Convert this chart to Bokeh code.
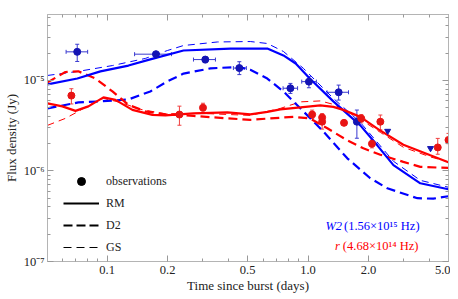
from bokeh.plotting import figure
from bokeh.models import (FixedTicker, LogAxis, Whisker, TeeHead, ColumnDataSource,
                          Label, Legend, LegendItem, Range1d)
from bokeh.embed import file_html
from bokeh.resources import INLINE

# ---------------- data (days, Jy) ----------------
# W2 observations
w2_t = [0.071, 0.175, 0.308, 0.455, 0.817, 1.01, 1.42, 1.75]
w2_f = [2.07e-5, 1.95e-5, 1.70e-5, 1.37e-5, 8.2e-6, 9.7e-6, 7.4e-6, 3.5e-6]
w2_f_lo = [1.62e-5, 1.88e-5, 1.57e-5, 1.16e-5, 7.19e-6, 8.3e-6, 6.07e-6, 2.30e-6]
w2_f_hi = [2.51e-5, 2.02e-5, 1.82e-5, 1.61e-5, 9.27e-6, 1.1e-5, 8.88e-6, 4.71e-6]
w2_t_lo = [0.0625, 0.137, 0.269, 0.425, 0.751, 0.93, 1.243, 1.72]
w2_t_hi = [0.080, 0.209, 0.346, 0.493, 0.887, 1.10, 1.59, 1.78]
# W2 upper limits
w2_ul_t = [2.49, 4.07]
w2_ul_f = [2.76e-6, 1.78e-6]

# r observations
r_t = [0.0664, 0.229, 0.30, 1.048, 1.175, 1.175, 1.51, 1.84, 2.08, 2.29, 4.42, 5.0]
r_f = [6.8e-6, 4.2e-6, 5.0e-6, 4.2e-6, 3.9e-6, 3.5e-6, 3.4e-6, 3.8e-6, 2.0e-6, 3.5e-6, 1.82e-6, 2.2e-6]
r_f_lo = [5.5e-6, 3.2e-6, 4.6e-6, 3.8e-6, 2.9e-6, 3.3e-6, 3.4e-6, 3.4e-6, 1.8e-6, 2.85e-6, 1.53e-6, 2.0e-6]
r_f_hi = [8.1e-6, 5.2e-6, 5.6e-6, 4.7e-6, 4.3e-6, 3.7e-6, 3.4e-6, 4.2e-6, 2.2e-6, 4.15e-6, 2.29e-6, 2.6e-6]

# W2 model curves
w2_rm_t = [0.0505, 0.0711, 0.0926, 0.1277, 0.164, 0.240, 0.411, 0.627, 0.754, 0.868, 1.02, 1.336, 1.82, 2.21, 2.66, 3.62, 4.99]
w2_rm_f = [9.03e-6, 1.05e-5, 1.26e-5, 1.46e-5, 1.71e-5, 2.14e-5, 2.25e-5, 2.25e-5, 1.89e-5, 1.54e-5, 1.05e-5, 5.87e-6, 3.19e-6, 1.92e-6, 1.16e-6, 7.31e-7, 6.28e-7]
w2_gs_t = [0.0505, 0.0719, 0.1063, 0.155, 0.1995, 0.240, 0.354, 0.516, 0.627, 0.754, 0.948, 1.336, 1.82, 2.66, 3.62, 4.99]
w2_gs_f = [1.135e-5, 1.26e-5, 1.46e-5, 1.75e-5, 2.14e-5, 2.43e-5, 2.66e-5, 2.69e-5, 2.56e-5, 2.09e-5, 1.36e-5, 6.34e-6, 3.44e-6, 1.28e-6, 7.88e-7, 6.61e-7]
w2_d2_t = [0.0505, 0.0719, 0.0926, 0.1277, 0.164, 0.1995, 0.240, 0.327, 0.450, 0.516, 0.627, 0.754, 0.948, 1.19, 1.568, 2.04, 2.48, 3.50, 4.20, 4.99]
w2_d2_f = [4.91e-6, 5.72e-6, 5.87e-6, 6.17e-6, 7.56e-6, 9.75e-6, 1.19e-5, 1.36e-5, 1.41e-5, 1.31e-5, 1.05e-5, 7.56e-6, 4.55e-6, 2.74e-6, 1.38e-6, 8.31e-7, 6.44e-7, 5.0e-7, 4.94e-7, 5.26e-7]

# r model curves
r_rm_t = [0.0505, 0.0599, 0.0696, 0.0807, 0.0959, 0.110, 0.1336, 0.168, 0.195, 0.269, 0.397, 0.516, 0.627, 0.728, 0.917, 1.151, 1.336, 1.498, 1.82, 2.24, 2.98, 4.06, 4.99]
r_rm_f = [5.58e-6, 5.17e-6, 4.61e-6, 5.17e-6, 6.50e-6, 6.10e-6, 4.73e-6, 4.17e-6, 4.11e-6, 4.33e-6, 4.44e-6, 4.22e-6, 4.50e-6, 4.79e-6, 5.04e-6, 5.30e-6, 5.10e-6, 4.73e-6, 3.96e-6, 2.88e-6, 1.95e-6, 1.49e-6, 1.25e-6]
r_d2_t = [0.0505, 0.0620, 0.0719, 0.0875, 0.1063, 0.1277, 0.155, 0.195, 0.269, 0.397, 0.516, 0.649, 0.845, 1.02, 1.247, 1.568, 1.884, 2.29, 2.98, 3.62, 4.99]
r_d2_f = [9.51e-6, 1.24e-5, 1.26e-5, 1.05e-5, 7.56e-6, 5.37e-6, 4.55e-6, 4.22e-6, 4.06e-6, 3.81e-6, 3.67e-6, 3.81e-6, 3.96e-6, 3.81e-6, 2.96e-6, 2.18e-6, 1.78e-6, 1.51e-6, 1.26e-6, 1.11e-6, 1.08e-6]
r_gs_t = [0.0505, 0.0620, 0.0719, 0.0826, 0.0959, 0.1165, 0.1465, 0.195, 0.291, 0.516, 0.728, 0.917, 1.151, 1.336, 1.533, 1.82, 2.29, 2.98, 4.06, 4.99]
r_gs_f = [3.19e-6, 3.81e-6, 4.55e-6, 5.44e-6, 6.34e-6, 5.72e-6, 4.79e-6, 4.28e-6, 4.33e-6, 4.11e-6, 4.91e-6, 5.80e-6, 5.94e-6, 5.44e-6, 4.67e-6, 3.72e-6, 2.67e-6, 1.83e-6, 1.43e-6, 1.26e-6]

# legend key sample (for drawing key glyphs only; lies outside the y range)
key_t = [1.0]
key_f = [1.0]

# axes
x_major = [0.1, 0.2, 0.5, 1, 2, 5]
x_major_labels = ["0.1", "0.2", "0.5", "1.0", "2.0", "5.0"]
x_minor = [0.06, 0.07, 0.08, 0.09, 0.3, 0.4, 0.6, 0.7, 0.8, 0.9, 3, 4]
y_major = [1e-7, 1e-6, 1e-5]
y_major_labels = ["10\u207b\u2077", "10\u207b\u2076", "10\u207b\u2075"]
y_minor = [k * 10.0 ** e for e in (-7, -6, -5) for k in range(2, 10) if k * 10.0 ** e < 5.4e-5]

BLUE = "#0000ff"
RED = "#ff0000"
BLUE_PT = "#1414b4"
RED_PT = "#e81414"
FONT = "Liberation Serif"
GRAY = "#b4b4b4"

p = figure(frame_width=401, frame_height=247, x_axis_type="log", y_axis_type="log",
           x_range=Range1d(0.0505, 5.0), y_range=Range1d(1e-7, 5.35e-5),
           output_backend="svg", toolbar_location=None,
           min_border_left=47, min_border_right=2, min_border_top=14, min_border_bottom=30)
p.grid.visible = False
p.outline_line_color = GRAY

xt = FixedTicker(ticks=x_major, minor_ticks=x_minor)
yt = FixedTicker(ticks=y_major, minor_ticks=y_minor)

def style(ax):
    ax.axis_line_color = GRAY
    ax.major_tick_line_color = "#999999"
    ax.minor_tick_line_color = "#999999"
    ax.major_tick_in = 6
    ax.major_tick_out = 0
    ax.minor_tick_in = 3
    ax.minor_tick_out = 0
    ax.major_label_text_font = FONT
    ax.major_label_text_font_size = "12.5px"
    ax.major_label_text_color = "#222222"
    ax.axis_label_text_font = FONT
    ax.axis_label_text_font_size = "13px"
    ax.axis_label_text_font_style = "normal"
    ax.axis_label_text_color = "#222222"

xa = p.xaxis[0]
xa.ticker = xt
xa.major_label_overrides = dict(zip(x_major, x_major_labels))
xa.axis_label = "Time since burst (days)"
style(xa)
xa.major_label_standoff = 4
xa.axis_label_standoff = 1

ya = p.yaxis[0]
ya.ticker = yt
ya.major_label_overrides = dict(zip(y_major, y_major_labels))
ya.axis_label = "Flux density (Jy)"
style(ya)
ya.major_label_standoff = 3
ya.axis_label_standoff = 2

for loc, tk, ticks in (("above", xt, x_major), ("right", yt, y_major)):
    ax = LogAxis(ticker=tk)
    style(ax)
    ax.major_label_text_font_size = "1px"
    ax.major_label_text_color = None
    ax.major_label_overrides = {t: "" for t in ticks}
    ax.major_label_standoff = 0
    p.add_layout(ax, loc)

# model curves
p.line(w2_gs_t, w2_gs_f, line_color=BLUE, line_width=1, line_dash="7 5")
p.line(r_gs_t, r_gs_f, line_color=RED, line_width=1, line_dash="7 5")
p.line(w2_d2_t, w2_d2_f, line_color=BLUE, line_width=2.2, line_dash="9 5")
p.line(r_d2_t, r_d2_f, line_color=RED, line_width=2.2, line_dash="9 5")
p.line(w2_rm_t, w2_rm_f, line_color=BLUE, line_width=2.2)
p.line(r_rm_t, r_rm_f, line_color=RED, line_width=2.2)

# error bars
w2_src = ColumnDataSource(dict(t=w2_t, f=w2_f, flo=w2_f_lo, fhi=w2_f_hi, tlo=w2_t_lo, thi=w2_t_hi))
r_src = ColumnDataSource(dict(t=r_t, f=r_f, flo=r_f_lo, fhi=r_f_hi))

def tee(c):
    return TeeHead(size=4, line_color=c, line_width=1)

p.add_layout(Whisker(source=w2_src, base="t", lower="flo", upper="fhi", dimension="height",
                     line_color="#3a3ad0", line_width=1, lower_head=tee("#3a3ad0"), upper_head=tee("#3a3ad0")))
p.add_layout(Whisker(source=w2_src, base="f", lower="tlo", upper="thi", dimension="width",
                     line_color="#3a3ad0", line_width=1, lower_head=tee("#3a3ad0"), upper_head=tee("#3a3ad0")))
p.add_layout(Whisker(source=r_src, base="t", lower="flo", upper="fhi", dimension="height",
                     line_color="#f04040", line_width=1, lower_head=tee("#f04040"), upper_head=tee("#f04040")))

p.scatter("t", "f", source=w2_src, size=7, color=BLUE_PT)
p.scatter("t", "f", source=r_src, size=7, color=RED_PT)
p.scatter(w2_ul_t, w2_ul_f, marker="inverted_triangle", size=6, color=BLUE_PT)

# legend (black key glyphs)
k_obs = p.scatter(key_t, key_f, size=7, color="black")
k_rm = p.line(key_t, key_f, line_color="black", line_width=2.2)
k_d2 = p.line(key_t, key_f, line_color="black", line_width=2.2, line_dash="9 4")
k_gs = p.line(key_t, key_f, line_color="black", line_width=1, line_dash="8 5")
legend = Legend(items=[LegendItem(label="observations", renderers=[k_obs]),
                       LegendItem(label="RM", renderers=[k_rm]),
                       LegendItem(label="D2", renderers=[k_d2]),
                       LegendItem(label="GS", renderers=[k_gs])],
                location=(16, 4), glyph_width=36, glyph_height=20, label_height=20,
                spacing=2, padding=0, margin=0, label_standoff=7,
                background_fill_alpha=0, border_line_alpha=0,
                label_text_font=FONT, label_text_font_size="12px", label_text_color="#222222")
p.add_layout(legend)

# band labels (y is the text baseline)
p.add_layout(Label(x=1.22, y=2.45e-7, text="W2", text_color=BLUE, text_font=FONT,
                   text_baseline="alphabetic", text_font_style="italic", text_font_size="12.5px"))
p.add_layout(Label(x=1.51, y=2.45e-7, text="(1.56\u00d710\u00b9\u2075 Hz)", text_color=BLUE,
                   text_baseline="alphabetic", text_font=FONT, text_font_size="12.5px"))
p.add_layout(Label(x=1.36, y=1.48e-7, text="r", text_color=RED, text_font=FONT,
                   text_baseline="alphabetic", text_font_style="italic", text_font_size="12.5px"))
p.add_layout(Label(x=1.49, y=1.48e-7, text="(4.68\u00d710\u00b9\u2074 Hz)", text_color=RED,
                   text_baseline="alphabetic", text_font=FONT, text_font_size="12.5px"))

open("out.html", "w").write(file_html(p, INLINE))
